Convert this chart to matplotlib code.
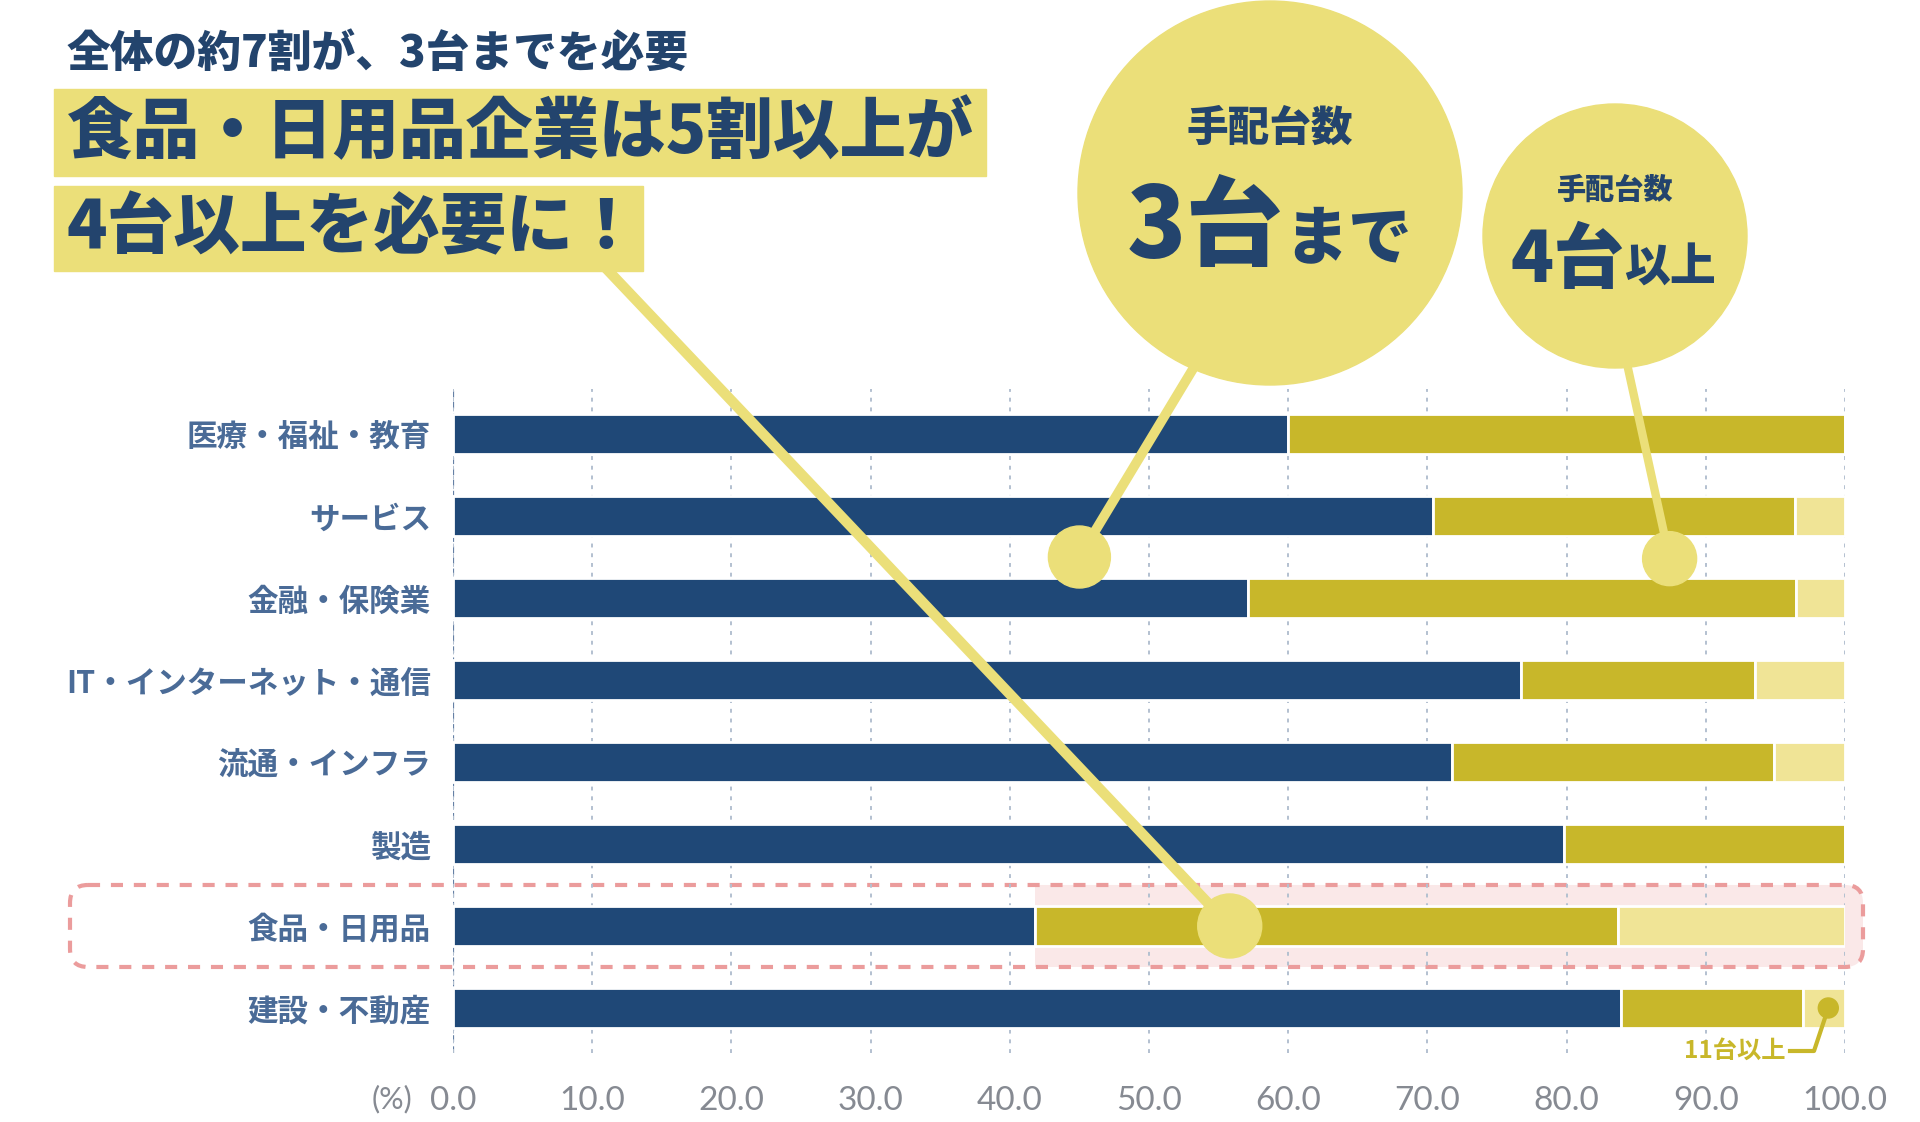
import matplotlib
matplotlib.use("Agg")
import matplotlib.pyplot as plt
from matplotlib.patches import Rectangle, Circle, FancyBboxPatch

plt.rcParams['font.family'] = ['Noto Sans CJK JP', 'DejaVu Sans']

# data (%)
categories = ['医療・福祉・教育', 'サービス', '金融・保険業', 'IT・インターネット・通信',
              '流通・インフラ', '製造', '食品・日用品', '建設・不動産']
upto3 = [60.0, 70.4, 57.1, 76.7, 71.8, 79.8, 41.8, 83.9]
from4to10 = [40.0, 26.0, 39.4, 16.8, 23.1, 20.2, 41.9, 13.1]
over11 = [0.0, 3.6, 3.5, 6.5, 5.1, 0.0, 16.3, 3.0]
xticks = [0, 10, 20, 30, 40, 50, 60, 70, 80, 90, 100]

NAVY = '#1f4877'
GOLD = '#c8b72a'
LIGHT = '#f0e496'
BUBBLE = '#ebdf79'
TEXT = '#23446d'
LABEL = '#4a6b97'
PINK = '#eb9c9c'
PINKFILL = '#fae8e8'
TICK = '#868a92'

W, H = 1920, 1122
fig = plt.figure(figsize=(W / 100, H / 100), dpi=100)

# background layer (pink highlight), bars, foreground layer (bubbles, pointers)
bg = fig.add_axes([0, 0, 1, 1], zorder=0)
ax = fig.add_axes([453 / W, 69 / H, 1392 / W, 664 / H], zorder=1)
fg = fig.add_axes([0, 0, 1, 1], zorder=2)
for o in (bg, fg):
    o.set_xlim(0, W)
    o.set_ylim(H, 0)
    o.axis('off')
    o.patch.set_alpha(0)
ax.patch.set_alpha(0)

# bars
ys = list(range(len(categories)))
left2 = [a for a in upto3]
left3 = [a + b for a, b in zip(upto3, from4to10)]
bh = 0.49
ax.barh(ys, upto3, height=bh, color=NAVY, edgecolor='white', linewidth=2)
ax.barh(ys, from4to10, left=left2, height=bh, color=GOLD, edgecolor='white', linewidth=2)
ax.barh(ys, over11, left=left3, height=bh, color=LIGHT, edgecolor='white', linewidth=2)

ax.set_xlim(0, 100)
ax.set_ylim(len(categories) - 0.451, -0.549)
ax.set_xticks(xticks)
ax.set_xticklabels([f'{t:.1f}' for t in xticks], fontsize=24, color=TICK,
                   family=['Lato', 'DejaVu Sans'], fontweight='normal')
ax.set_yticks(ys)
ax.set_yticklabels(categories, fontsize=22, color=LABEL, fontweight='bold')
ax.tick_params(axis='x', length=0, pad=24)
ax.tick_params(axis='y', length=0, pad=16)
for s in ax.spines.values():
    s.set_visible(False)
ax.set_axisbelow(True)
ax.grid(axis='x', color='#b3c0d0', linestyle=(0, (2, 3)), linewidth=1.4)
ax.grid(axis='y', visible=False)
ax.axvline(0, color='#6580a5', linestyle=(0, (3, 2)), linewidth=1.6, zorder=0.5)


def to_px(x, y):
    px, py = ax.transData.transform((x, y))
    return px, H - py


# pink highlight around 食品・日用品
fx0, fy = to_px(upto3[6], 6)
fill = FancyBboxPatch((fx0 - 40, fy - 41), 1863 - fx0 + 40, 82,
                      boxstyle='round,pad=0,rounding_size=18', fc=PINKFILL, ec='none')
bg.add_patch(fill)
fill.set_clip_path(Rectangle((fx0, 0), W, H, transform=bg.transData))
bg.add_patch(FancyBboxPatch((70, fy - 41), 1793, 82,
                            boxstyle='round,pad=0,rounding_size=18', fill=False,
                            ec=PINK, lw=3, linestyle=(0, (2.9, 2.6))))

# headline
fg.text(67, 53, '全体の約7割が、3台までを必要', fontsize=31.5, fontweight='black',
        color=TEXT, va='center', ha='left')
fg.add_patch(Rectangle((54, 89), 932, 87, color=BUBBLE, zorder=3))
fg.text(67, 133, '食品・日用品企業は5割以上が', fontsize=48, fontweight='black',
        color=TEXT, va='center', ha='left', zorder=4)
fg.add_patch(Rectangle((54, 186), 589, 85, color=BUBBLE, zorder=3))
fg.text(67, 229, '4台以上を必要に！', fontsize=48, fontweight='black',
        color=TEXT, va='center', ha='left', zorder=4)

# pointers
d3x, d3y = to_px(55.8, 6.0)
fg.plot([600, d3x], [262, d3y], color=BUBBLE, lw=7.5, solid_capstyle='butt', zorder=2)
fg.add_patch(Circle((d3x, d3y), 32, color=BUBBLE, zorder=2))

d1x, d1y = to_px(45.0, 1.5)
fg.plot([1205, d1x], [349, d1y], color=BUBBLE, lw=7, solid_capstyle='butt', zorder=2)
fg.add_patch(Circle((d1x, d1y), 31, color=BUBBLE, zorder=2))

d2x, d2y = to_px(87.4, 1.52)
fg.plot([1624, d2x], [350, d2y], color=BUBBLE, lw=6, solid_capstyle='butt', zorder=2)
fg.add_patch(Circle((d2x, d2y), 27, color=BUBBLE, zorder=2))

# bubbles
fg.add_patch(Circle((1270, 193), 192, color=BUBBLE, zorder=3))
fg.text(1270, 129, '手配台数', fontsize=30, fontweight='black', color=TEXT,
        ha='center', va='center', zorder=4)
fg.text(1283, 258, '3台', fontsize=70, fontweight='black', color=TEXT,
        ha='right', va='baseline', zorder=4)
fg.text(1284, 258, 'まで', fontsize=46, fontweight='black', color=TEXT,
        ha='left', va='baseline', zorder=4)

fg.add_patch(Circle((1615, 236), 132, color=BUBBLE, zorder=3))
fg.text(1615, 190, '手配台数', fontsize=21, fontweight='black', color=TEXT,
        ha='center', va='center', zorder=4)
fg.text(1624, 282, '4台', fontsize=51, fontweight='black', color=TEXT,
        ha='right', va='baseline', zorder=4)
fg.text(1624, 282, '以上', fontsize=33, fontweight='black', color=TEXT,
        ha='left', va='baseline', zorder=4)

# 11台以上 callout
d4x, d4y = to_px(98.8, 7)
fg.add_patch(Circle((d4x, d4y), 10, color=GOLD, zorder=4))
fg.plot([1790, 1814, d4x], [1051, 1051, d4y], color=GOLD, lw=3, zorder=4)
fg.text(1785, 1051, '11台以上', fontsize=17.5, fontweight='bold', color=GOLD,
        ha='right', va='center', zorder=4)

fg.text(392, 1099, '(%)', fontsize=22, color=TICK, ha='center', va='center',
        family=['Lato', 'DejaVu Sans'], fontweight='normal')

fig.savefig('out.png', dpi=100)
